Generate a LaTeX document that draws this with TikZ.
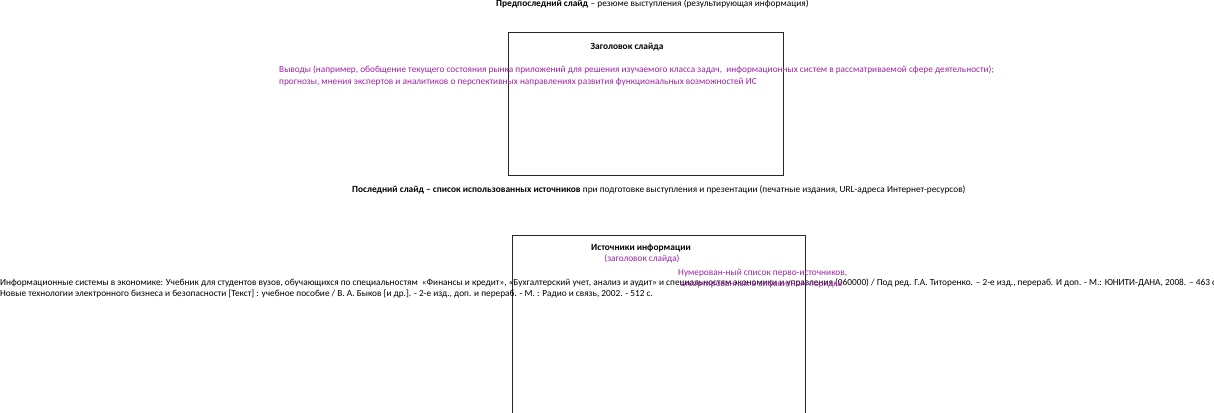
\documentclass[tikz,border=0pt]{standalone}
\usepackage{fontspec}
\setmainfont{Carlito}
\definecolor{viol}{RGB}{155,35,160}
\definecolor{boxc}{RGB}{40,40,40}
\begin{document}
\begin{tikzpicture}[x=1pt,y=-1pt,
  slidebox/.style={draw=boxc,line width=0.9pt},
  hdr/.style={inner sep=0pt,anchor=base west,font=\fontsize{9.4}{11}\selectfont\bfseries},
  small/.style={inner sep=0pt,anchor=base west,font=\fontsize{9.3}{11}\selectfont},
  ptext/.style={inner sep=0pt,anchor=base west,text=viol,font=\fontsize{9.3}{11}\selectfont},
  btext/.style={inner sep=0pt,anchor=base west,font=\fontsize{9.3}{11}\selectfont}]
\useasboundingbox (0,0) rectangle (1214,412);
% top header
\node[hdr] (h1) at (496,7) {Предпоследний слайд};
\node[small] (h1b) at (h1.base east) {\ – резюме выступления (результирующая информация)};
% slide 1
\draw[slidebox] (508,32) rectangle (783,175);
\node[hdr,anchor=base] (t1) at (627,49) {Заголовок слайда};
\node[ptext] (p1) at (279,73) {Выводы (например, обобщение текущего состояния рынка приложений для решения изучаемого класса задач,\ \ информационных систем в рассматриваемой сфере деятельности);};
\node[ptext] (p2) at (279,84) {прогнозы, мнения экспертов и аналитиков о перспективных направлениях развития функциональных возможностей ИС};
% second header
\node[hdr] (h2) at (352,192) {Последний слайд – список использованных источников};
\node[small] (h2b) at (h2.base east) {\ при подготовке выступления и презентации (печатные издания, URL-адреса Интернет-ресурсов)};
% slide 2
\draw[slidebox] (512,235) rectangle (805,413);
\node[hdr,anchor=base] (t2) at (641,250) {Источники информации};
\node[ptext,anchor=base] (t2b) at (642,261) {(заголовок слайда)};
\node[ptext] (n1) at (678,275) {Нумерован-ный список перво-источников,};
\node[btext] (s1) at (0,285) {Информационные системы в экономике: Учебник для студентов вузов, обучающихся по специальностям\ \ «Финансы и кредит», «Бухгалтерский учет, анализ и аудит» и специальностям экономики и управления (060000) / Под ред. Г.А. Титоренко. – 2-е изд., перераб. И доп. - М.: ЮНИТИ-ДАНА, 2008. – 463 с.};
\node[ptext] (n2) at (680,286) {отсортированных в алфавитном порядке};
\node[btext] (s2) at (0,296) {Новые технологии электронного бизнеса и безопасности [Текст] : учебное пособие / В. А. Быков [и др.]. - 2-е изд., доп. и перераб. - М. : Радио и связь, 2002. - 512 с.};
\end{tikzpicture}
\end{document}
